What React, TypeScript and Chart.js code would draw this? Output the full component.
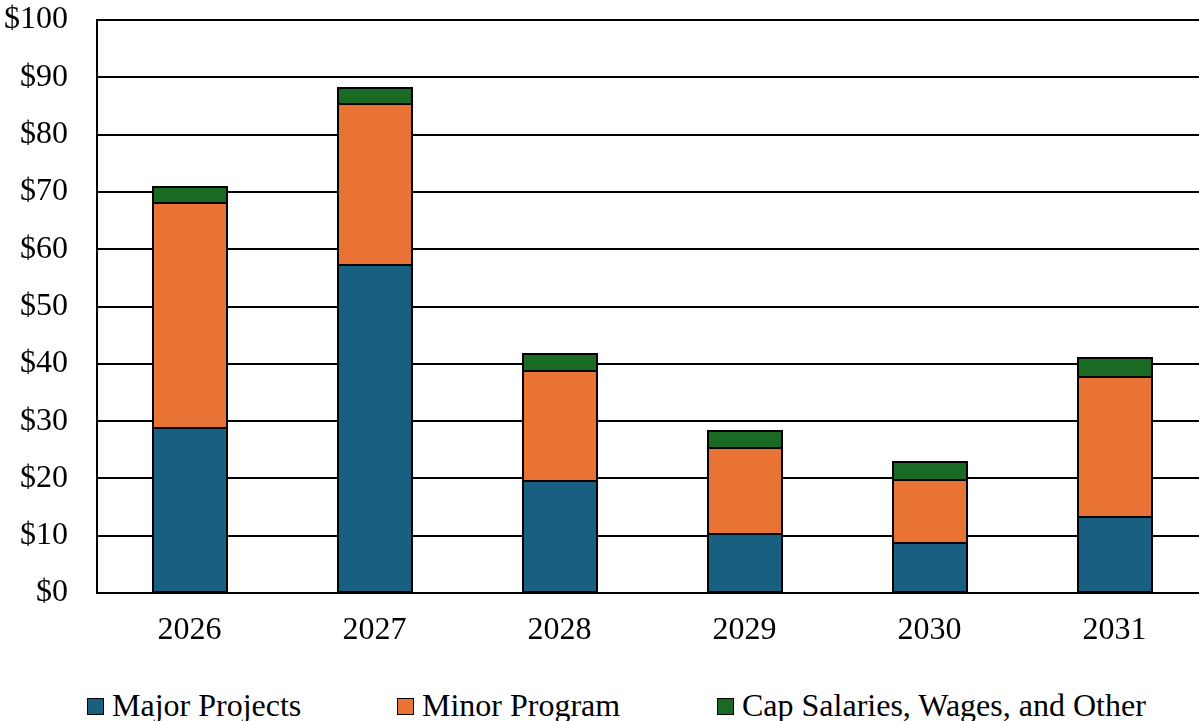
import React, { useEffect, useRef } from "react";
import { Chart, registerables } from "chart.js";

Chart.register(...registerables);

// Fiscal years on the category axis
const years = ["2026", "2027", "2028", "2029", "2030", "2031"];

// Spending by category, in $ millions
const majorProjects = [28.8, 57.3, 19.5, 10.3, 8.7, 13.2];
const minorProgram = [39.2, 28.0, 19.3, 15.0, 11.0, 24.5];
const capSalaries = [2.9, 2.9, 2.9, 3.0, 3.1, 3.3];

const seriesNames = ["Major Projects", "Minor Program", "Cap Salaries, Wages, and Other"];
const seriesColors = ["#185F82", "#E97334", "#1B6A23"];

// Axis range and step for the dollar scale
const yMin = 0;
const yMax = 100;
const yStep = 10;

const FONT = "'Liberation Serif', 'Times New Roman', serif";

// Strokes a centred outline around every bar segment, so neighbouring
// segments share one line instead of two inset borders.
const barOutline = {
  id: "barOutline",
  afterDatasetsDraw(chart: any) {
    const ctx = chart.ctx;
    ctx.save();
    ctx.strokeStyle = "#000000";
    ctx.lineWidth = 2;
    chart.data.datasets.forEach((_: any, di: number) => {
      const meta = chart.getDatasetMeta(di);
      if (meta.hidden) return;
      meta.data.forEach((bar: any) => {
        const { x, y, base, width } = bar.getProps(["x", "y", "base", "width"], true);
        const left = Math.round(x - width / 2);
        const right = Math.round(x + width / 2);
        const top = Math.round(Math.min(y, base));
        const bottom = Math.round(Math.max(y, base));
        ctx.strokeRect(left, top, right - left, bottom - top);
      });
    });
    ctx.restore();
  },
};

export default function App() {
  const canvasRef = useRef<HTMLCanvasElement | null>(null);

  useEffect(() => {
    const canvas = canvasRef.current;
    if (!canvas) return;
    const seriesData = [majorProjects, minorProgram, capSalaries];
    const chart = new Chart(canvas, {
      type: "bar",
      data: {
        labels: years,
        datasets: seriesNames.map((name, i) => ({
          label: name,
          data: seriesData[i],
          backgroundColor: seriesColors[i],
          borderWidth: 0,
          inflateAmount: 0,
          barPercentage: 0.4,
          categoryPercentage: 1.0,
        })),
      },
      options: {
        responsive: false,
        animation: false,
        devicePixelRatio: 1,
        layout: { padding: { top: 20, right: 0, bottom: 0, left: 0 } },
        plugins: {
          legend: { display: false },
          tooltip: { enabled: false },
        },
        scales: {
          x: {
            stacked: true,
            offset: true,
            grid: { display: false, drawTicks: false },
            border: { display: true, color: "#000000", width: 2 },
            ticks: {
              color: "#000000",
              font: { family: FONT, size: 32 },
              padding: 18,
            },
            afterFit: (scale: any) => {
              scale.height = 87;
            },
          },
          y: {
            stacked: true,
            min: yMin,
            max: yMax,
            grid: { color: "#000000", lineWidth: 2, drawTicks: false },
            border: { display: true, color: "#000000", width: 2 },
            ticks: {
              stepSize: yStep,
              color: "#000000",
              font: { family: FONT, size: 32 },
              padding: 29,
              callback: (v: any) => `$${v}`,
            },
            afterFit: (scale: any) => {
              scale.width = 97;
              scale.paddingTop = 0;
              scale.paddingBottom = 0;
            },
          },
        },
      },
      plugins: [barOutline],
    });
    return () => chart.destroy();
  }, []);

  const legendItems = [
    { boxLeft: 87, textLeft: 112 },
    { boxLeft: 397, textLeft: 422 },
    { boxLeft: 717, textLeft: 742 },
  ];

  return (
    <div
      style={{
        position: "absolute",
        left: 0,
        top: 0,
        width: 1199,
        height: 721,
        background: "#ffffff",
        overflow: "hidden",
        fontFamily: FONT,
      }}
    >
      {/* plot runs slightly past the right edge of the frame */}
      <canvas ref={canvasRef} width={1207} height={680} style={{ display: "block" }} />
      {legendItems.map((item, i) => (
        <React.Fragment key={seriesNames[i]}>
          <div
            style={{
              position: "absolute",
              left: item.boxLeft,
              top: 698,
              width: 17,
              height: 17,
              boxSizing: "border-box",
              border: "1.5px solid #000",
              background: seriesColors[i],
            }}
          />
          <div
            style={{
              position: "absolute",
              left: item.textLeft,
              top: 689,
              fontSize: 32,
              lineHeight: "32px",
              whiteSpace: "nowrap",
              color: "#000",
            }}
          >
            {seriesNames[i]}
          </div>
        </React.Fragment>
      ))}
    </div>
  );
}
